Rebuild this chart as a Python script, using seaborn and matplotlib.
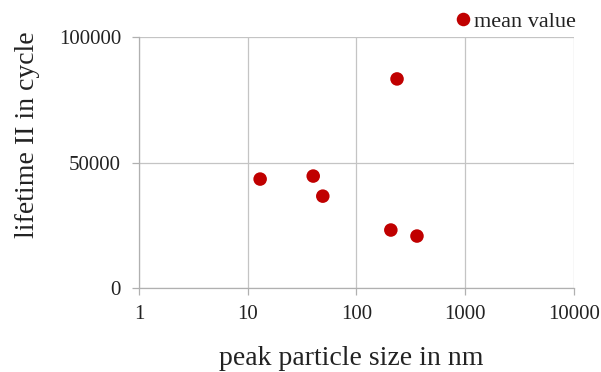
import matplotlib
matplotlib.use("Agg")
import matplotlib.pyplot as plt
import seaborn as sns
import pandas as pd
from matplotlib.ticker import FixedLocator, FixedFormatter, NullLocator

size_nm = [13, 40, 49, 207, 236, 360]
lifetime = [43400, 44600, 36600, 23100, 83300, 20700]
x_ticks = [1, 10, 100, 1000, 10000]
x_tick_labels = ["1", "10", "100", "1000", "10000"]
y_ticks = [0, 50000, 100000]
y_tick_labels = ["0", "50000", "100000"]

df = pd.DataFrame({"size": size_nm, "lifetime": lifetime, "series": "mean value"})

sns.set_theme(style="white")
plt.rcParams["font.family"] = ["Liberation Serif", "DejaVu Serif"]

fig = plt.figure(figsize=(6.01, 3.72), dpi=100)
ax = fig.add_axes([0.2313, 0.2258, 0.955 - 0.2313, 0.9005 - 0.2258])

sns.scatterplot(data=df, x="size", y="lifetime", hue="series", palette=["#C00000"],
                s=95, edgecolor="none", ax=ax, zorder=3, legend=True)

ax.set_xscale("log")
ax.set_xlim(1, 10000)
ax.set_ylim(0, 100000)
ax.xaxis.set_major_locator(FixedLocator(x_ticks))
ax.xaxis.set_major_formatter(FixedFormatter(x_tick_labels))
ax.xaxis.set_minor_locator(NullLocator())
ax.yaxis.set_major_locator(FixedLocator(y_ticks))
ax.yaxis.set_major_formatter(FixedFormatter(y_tick_labels))

ax.grid(True, color="#c4c4c4", linewidth=0.9)
for side in ["top", "right"]:
    ax.spines[side].set_visible(False)
for side in ["left", "bottom"]:
    ax.spines[side].set_color("#b0b0b0")
    ax.spines[side].set_linewidth(0.9)
ax.tick_params(axis="both", which="major", length=5, width=0.9, color="#b0b0b0",
               labelsize=15, labelcolor="#222222", direction="out", bottom=True, left=True)
ax.tick_params(axis="x", pad=7)
ax.tick_params(axis="y", pad=8)

ax.set_xlabel("")
ax.set_ylabel("")
fig.text(0.585, 0.019, "peak particle size in nm", ha="center", va="baseline", fontsize=20, color="#222222")
fig.text(0.045, 0.637, "lifetime II in cycle", ha="center", va="center", rotation=90, fontsize=20, color="#222222")

leg = ax.legend(loc="upper right", bbox_to_anchor=(1.024, 1.137), frameon=False, fontsize=16,
                handletextpad=0.0, borderaxespad=0, markerscale=1.0, handlelength=1.0)
for t in leg.get_texts():
    t.set_color("#222222")

fig.savefig("out.png", dpi=100)
